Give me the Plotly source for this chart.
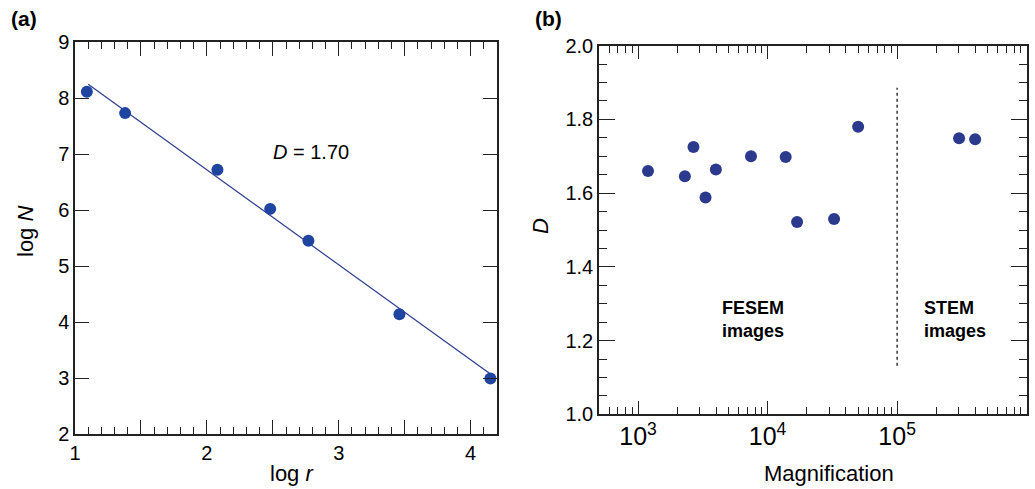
import plotly.graph_objects as go

# Panel (a): log N vs log r
a_logr = [1.09, 1.38, 2.08, 2.48, 2.77, 3.46, 4.15]
a_logN = [8.11, 7.73, 6.72, 6.02, 5.45, 4.14, 2.99]
fit_logr = [1.10, 4.15]
fit_logN = [8.245, 3.07]
a_label = "<i>D</i> = 1.70"

# Panel (b): D vs magnification
b_mag = [1195, 2300, 2680, 3320, 3990, 7450, 13800, 16900, 32600, 50000, 300700, 400000]
b_D = [1.660, 1.646, 1.725, 1.588, 1.664, 1.700, 1.698, 1.522, 1.530, 1.780, 1.749, 1.746]
div_mag = [1e5, 1e5]
div_D = [1.132, 1.886]

FONT = "Liberation Sans, Arial, Helvetica, sans-serif"
AX = "#222222"
W, H = 1035, 489

fig = go.Figure()
fig.add_trace(go.Scatter(x=fit_logr, y=fit_logN, mode="lines",
                         line=dict(color="#2b3d8f", width=1.2),
                         xaxis="x", yaxis="y", showlegend=False))
fig.add_trace(go.Scatter(x=a_logr, y=a_logN, mode="markers",
                         marker=dict(color="#1f45a0", size=12),
                         xaxis="x", yaxis="y", showlegend=False, cliponaxis=False))
fig.add_trace(go.Scatter(x=div_mag, y=div_D, mode="lines",
                         line=dict(color="#333333", width=1.5, dash="dot"),
                         xaxis="x2", yaxis="y2", showlegend=False))
fig.add_trace(go.Scatter(x=b_mag, y=b_D, mode="markers",
                         marker=dict(color="#2b3a8c", size=12),
                         xaxis="x2", yaxis="y2", showlegend=False))

common = dict(showline=True, linecolor=AX, linewidth=1.5, mirror="ticks",
              ticks="inside", tickcolor=AX, tickwidth=1.3, showgrid=False,
              zeroline=False, automargin=False,
              tickfont=dict(size=20, color="black", family=FONT))

fig.update_layout(
    template="none",
    width=W, height=H,
    margin=dict(l=0, r=0, t=0, b=0, pad=0),
    paper_bgcolor="white", plot_bgcolor="white",
    font=dict(family=FONT, color="black"),
    xaxis=dict(domain=[75/W, 497/W], anchor="y", range=[1, 4.2],
               tickmode="array", tickvals=[1, 1.5, 2, 2.5, 3, 3.5, 4],
               ticktext=["1", "", "2", "", "3", "", "4"], ticklen=14,
               minor=dict(dtick=0.1, tick0=1, ticklen=7, ticks="inside",
                          tickcolor=AX, tickwidth=1.3),
               **common),
    yaxis=dict(domain=[1-434/H, 1-42/H], anchor="x", range=[2, 9],
               dtick=1, ticklen=14, **common),
    xaxis2=dict(domain=[599/W, 1026.7/W], anchor="y2", type="log",
                range=[2.699, 6], dtick=1, exponentformat="power",
                showexponent="all", ticklen=14,
                minor=dict(dtick="D1", ticklen=8, ticks="inside",
                           tickcolor=AX, tickwidth=1.3),
                **common),
    yaxis2=dict(domain=[1-414.3/H, 1-45.7/H], anchor="x2", range=[1.0, 2.0],
                dtick=0.2, tickformat=".1f", ticklen=16,
                minor=dict(dtick=0.05, ticklen=8, ticks="inside",
                           tickcolor=AX, tickwidth=1.3),
                **common),
)

def pann(text, x, y, size, xanchor="center", yanchor="middle", **kw):
    fig.add_annotation(x=x/W, y=1-y/H, xref="paper", yref="paper", text=text,
                       showarrow=False, xanchor=xanchor, yanchor=yanchor,
                       font=dict(size=size, family=FONT, color="black"), **kw)

# axis titles
pann("log <i>N</i>", 25, 232, 22, textangle=-90)
pann("log <i>r</i>", 292, 473, 22)
pann("<i>D</i>", 540, 226, 22, textangle=-90)
pann("Magnification", 829, 473, 22)

fig.add_annotation(x=2.79, y=7.04, xref="x", yref="y", text=a_label,
                   showarrow=False, font=dict(size=20, family=FONT))
pann("<b>FESEM<br>images</b>", 720, 319, 18, align="left", xanchor="left")
pann("<b>STEM<br>images</b>", 922, 319, 18, align="left", xanchor="left")
pann("<b>(a)</b>", 24, 19, 21)
pann("<b>(b)</b>", 548, 19, 21)

fig.write_html("out.html", config={"displayModeBar": False},
               post_script="document.body.style.margin='0px';")
